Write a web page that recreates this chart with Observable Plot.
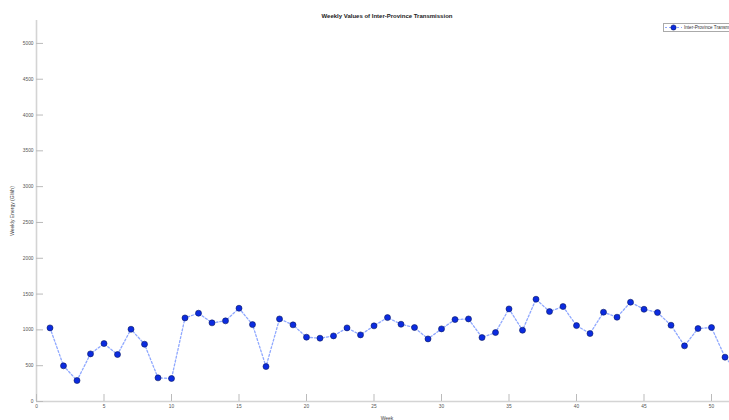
<!DOCTYPE html>
<html>
<head>
<meta charset="utf-8">
<script src="https://cdn.jsdelivr.net/npm/d3@7"></script>
<script src="https://cdn.jsdelivr.net/npm/@observablehq/plot@0.6"></script>
<style>
  html, body { margin: 0; padding: 0; background: #fff; overflow: hidden; }
  #wrap { position: relative; width: 729px; height: 420px; overflow: hidden; font-family: "Liberation Sans", Arial, sans-serif; }
  #chart { position: absolute; left: 0; top: 0; width: 774px; }
  #chart svg { max-width: none !important; }
  .title { position: absolute; top: 13px; left: 0; width: 774px; text-align: center; font-weight: bold; font-size: 6px; color: #222; }
  .ylab { position: absolute; left: 12px; top: 211px; transform: translate(-50%, -50%) rotate(-90deg); font-size: 5px; color: #444; white-space: nowrap; }
  .xlab { position: absolute; top: 415px; left: 0; width: 774px; text-align: center; font-size: 5px; color: #444; }
  .legend { position: absolute; left: 663px; top: 23px; height: 7px; width: 90px; border: 0.8px solid #aaa; background: #fff; display: flex; align-items: center; font-size: 4.6px; color: #333; white-space: nowrap; }
</style>
</head>
<body>
<div id="wrap">
  <div id="chart"></div>
  <div class="title">Weekly Values of Inter-Province Transmission</div>
  <div class="ylab">Weekly Energy (GWh)</div>
  <div class="xlab">Week</div>
  <div class="legend"><svg width="19" height="7" style="flex:none"><line x1="1" y1="3.5" x2="18" y2="3.5" stroke="#8fa8ff" stroke-width="1" stroke-dasharray="2,2"/><circle cx="9.5" cy="3.5" r="2.6" fill="#0b2be0" stroke="#0a1a60" stroke-width="0.6"/></svg><span style="margin-left:1px">Inter-Province Transmission</span></div>
</div>
<script>
const weeks = d3.range(1, 53);
const energy = [1028, 498, 293, 665, 809, 656, 1009, 800, 330, 321,
  1167, 1233, 1098, 1126, 1302, 1074, 488, 1153, 1070, 898,
  884, 916, 1028, 930, 1056, 1172, 1079, 1033, 874, 1014,
  1144, 1153, 893, 963, 1293, 995, 1428, 1256, 1326, 1060,
  949, 1247, 1177, 1386, 1288, 1242, 1065, 777, 1019, 1033,
  619, 400];
const xTicks = [0, 5, 10, 15, 20, 25, 30, 35, 40, 45, 50];
const yTicks = [0, 500, 1000, 1500, 2000, 2500, 3000, 3500, 4000, 4500, 5000];

const data = weeks.map((w, i) => ({week: w, value: energy[i]}));

const chart = Plot.plot({
  width: 774,
  height: 420,
  marginLeft: 36,
  marginRight: 36,
  marginTop: 20,
  marginBottom: 19,
  style: {fontFamily: "Liberation Sans, Arial, sans-serif", fontSize: "4.8px", color: "#555", background: "#fff", maxWidth: "none"},
  x: {domain: [0, 52]},
  y: {domain: [0, 5320]},
  marks: [
    Plot.ruleX([0], {stroke: "#d4d4d4", strokeWidth: 1.6}),
    Plot.ruleY([0], {stroke: "#d4d4d4", strokeWidth: 1.6}),
    Plot.axisY(yTicks, {anchor: "left", tickSize: -7, tickPadding: 10, stroke: "#bbb", fill: "#555", label: null, tickFormat: d => String(d)}),
    Plot.axisX(xTicks, {anchor: "bottom", tickSize: -7, tickPadding: 10, stroke: "#bbb", fill: "#555", label: null, tickFormat: d => String(d)}),
    Plot.line(data, {x: "week", y: "value", stroke: "#8fa8ff", strokeWidth: 1.3, strokeDasharray: "2,2"}),
    Plot.dot(data, {x: "week", y: "value", r: 3, fill: "#0b2be0", stroke: "#0a1a60", strokeWidth: 0.6})
  ]
});
document.getElementById("chart").appendChild(chart);
</script>
</body>
</html>
